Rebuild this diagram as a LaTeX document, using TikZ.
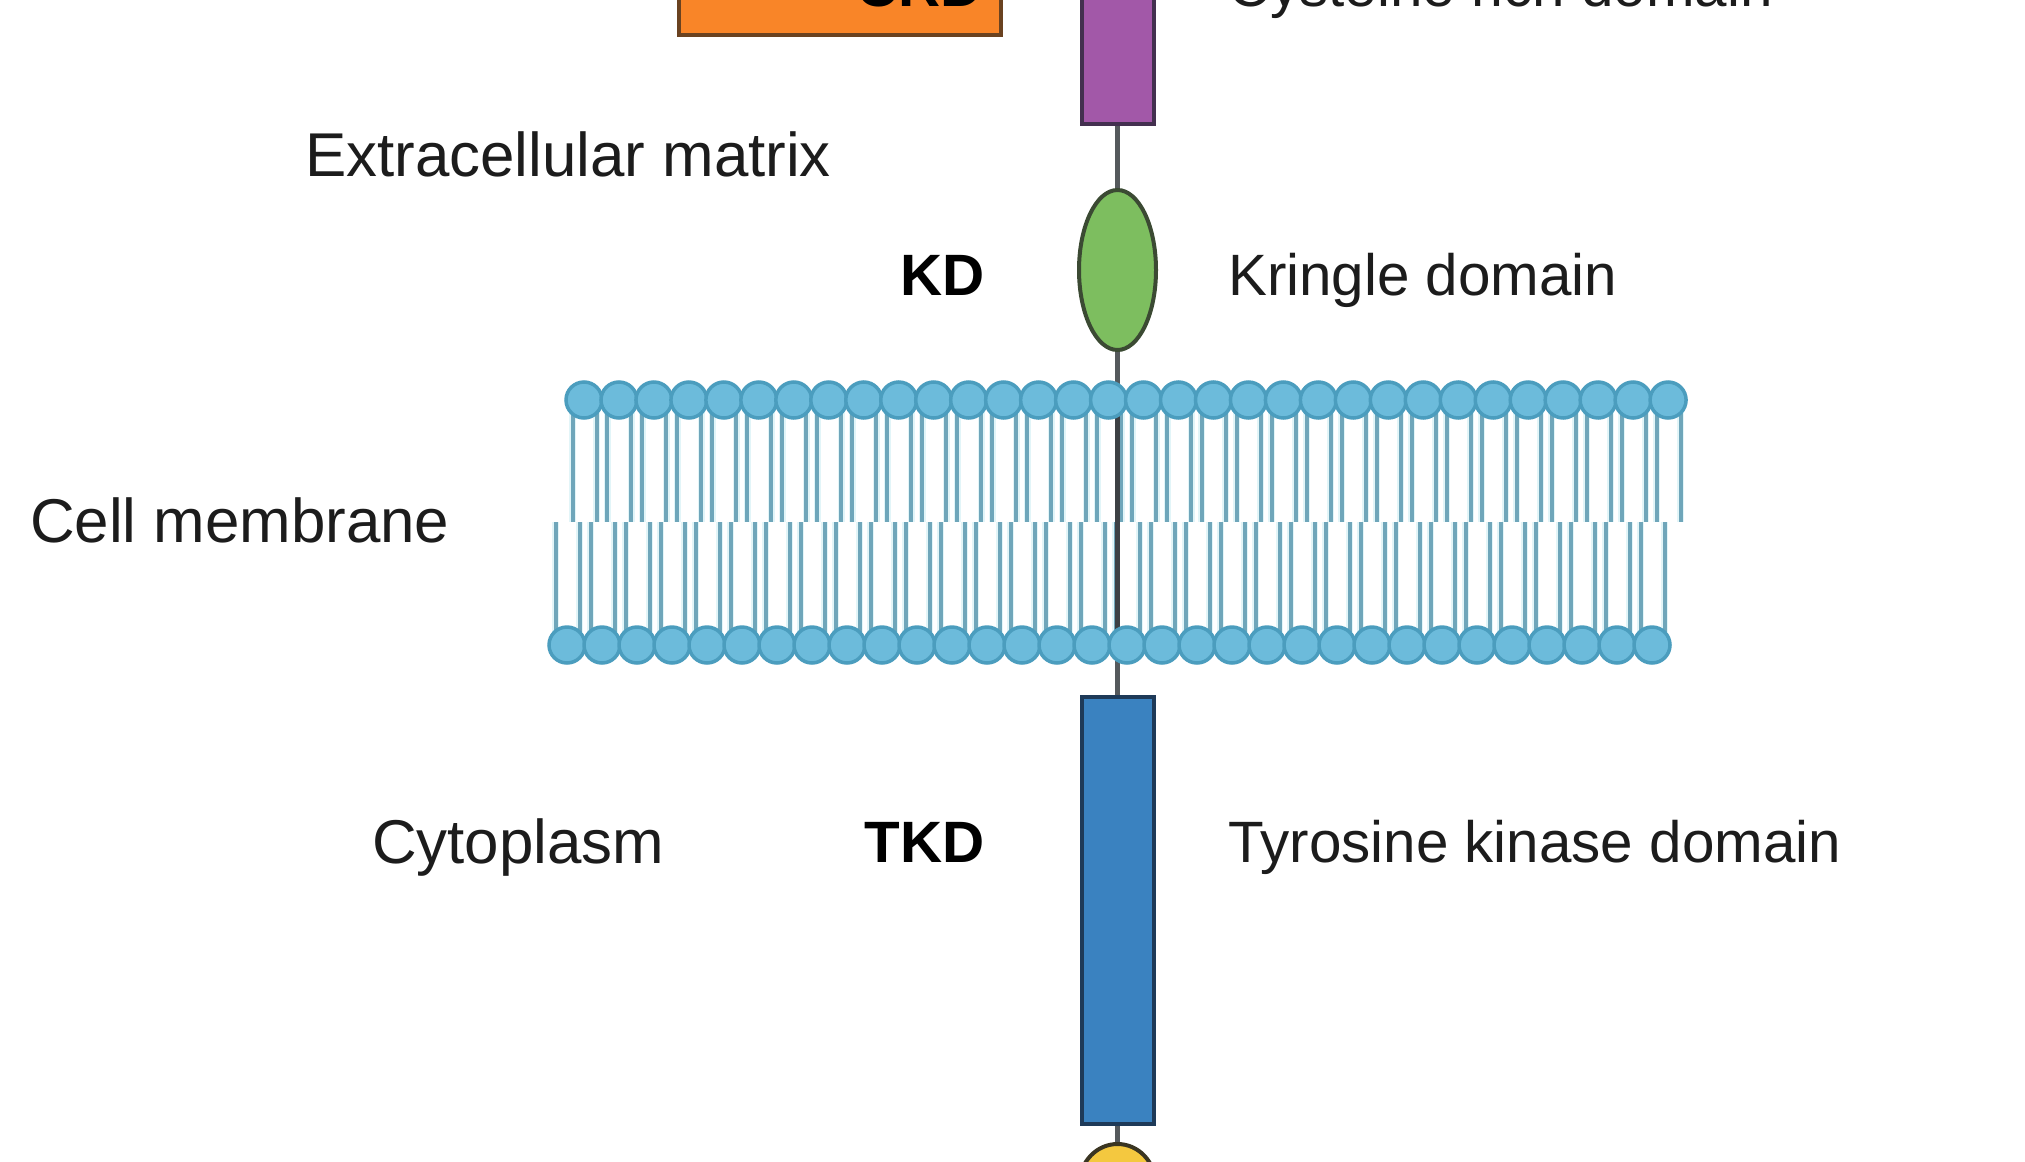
\documentclass[tikz,border=0pt]{standalone}
\usepackage{fontspec}
\setmainfont{Liberation Sans}
\usetikzlibrary{shapes.geometric}
\pgfdeclarelayer{under}
\pgfsetlayers{under,main}
\definecolor{headfill}{HTML}{6CBBDB}
\definecolor{headline}{HTML}{4B9DBE}
\definecolor{tailcore}{HTML}{6FA6BA}
\definecolor{tailglow}{HTML}{E2F5F8}
\definecolor{stemgray}{HTML}{55595C}
\definecolor{stemdark}{HTML}{3C4044}
\definecolor{inktext}{HTML}{1C1C1C}
\definecolor{crdfill}{HTML}{F98528}
\definecolor{crdline}{HTML}{6A4220}
\definecolor{crichfill}{HTML}{A258A8}
\definecolor{crichline}{HTML}{43304F}
\definecolor{kdfill}{HTML}{7DBE5F}
\definecolor{kdline}{HTML}{3B4A33}
\definecolor{tkdfill}{HTML}{3A82C0}
\definecolor{tkdline}{HTML}{1E3A58}
\definecolor{tailfill}{HTML}{F4C83F}
\definecolor{tailline2}{HTML}{3A3522}
\tikzset{
  x=0.05cm,y=-0.05cm,
  px/.style={line width=#1*0.05cm},
  domainbox/.style={rectangle,px=4,inner sep=0pt,minimum width=3.6cm},
  domainoval/.style={ellipse,px=4,inner sep=0pt},
  leftlabel/.style={font=\fontsize{88pt}{88pt}\selectfont,text=inktext,inner sep=0pt,anchor=base west},
  rightlabel/.style={font=\fontsize{83pt}{83pt}\selectfont,text=inktext,inner sep=0pt,anchor=base west},
  abbrev/.style={font=\fontsize{83pt}{83pt}\selectfont\bfseries,text=black,inner sep=0pt,anchor=base east},
  lipidhead/.style={circle,draw=headline,fill=headfill,px=3.5,minimum size=1.8cm,inner sep=0pt},
  tailhalo/.style={tailglow,px=7},
  tailstroke/.style={tailcore,px=4},
  stemline/.style={stemgray,px=5.5}
}
\begin{document}
\begin{tikzpicture}
\useasboundingbox (0,0) rectangle (2025,1161);
\begin{scope}
\clip (0,0) rectangle (2025,1161);

% Receptor domains
\node[domainbox,draw=crdline,fill=crdfill,minimum width=16.1cm,minimum height=4cm] (crdbox) at (840,-5) {};
\node[domainbox,draw=crichline,fill=crichfill,minimum height=8cm] (crichbox) at (1117.5,44) {};
\node[domainoval,draw=kdline,fill=kdfill,minimum width=3.85cm,minimum height=8cm] (kd) at (1117.5,270) {};
\node[domainbox,draw=tkdline,fill=tkdfill,minimum height=21.35cm] (tkdbox) at (1117.5,910.5) {};
\node[domainoval,draw=tailline2,fill=tailfill,minimum width=3.8cm,minimum height=4cm] (cyt) at (1117.5,1184) {};

% Page ground and the stem joining the domains, behind everything else
\begin{pgfonlayer}{under}
  \fill[white] (0,0) rectangle (2025,1161);
  \draw[stemline] (crichbox.south) -- (kd.north);
  \draw[stemline] (kd.south) -- (tkdbox.north);
  \draw[stemline] (tkdbox.south) -- (cyt.north);
\end{pgfonlayer}

% Fatty acid tails of both leaflets
\foreach \i in {0,...,31}{
  \pgfmathsetmacro{\cx}{584+\i*34.97}
  \pgfmathsetmacro{\dx}{567+\i*35}
  \foreach \s in {-11.5,12.5}{
    \draw[tailhalo] (\cx+\s,412) -- (\cx+\s,522);
    \draw[tailhalo] (\dx+\s,522) -- (\dx+\s,632);
  }
}
\foreach \i in {0,...,31}{
  \pgfmathsetmacro{\cx}{584+\i*34.97}
  \pgfmathsetmacro{\dx}{567+\i*35}
  \foreach \s in {-11.5,12.5}{
    \draw[tailstroke] (\cx+\s,412) -- (\cx+\s,522);
    \draw[tailstroke] (\dx+\s,522) -- (\dx+\s,632);
  }
}

% Transmembrane part of the stem, over the tails
\coordinate (memtop) at (1117.5,405);
\coordinate (membot) at (1117.5,640);
\draw[stemdark,px=5.5] (memtop) -- (membot);

% Phospholipid heads
\foreach \i in {0,...,31}{
  \node[lipidhead] (u\i) at (584+\i*34.97,400) {};
  \node[lipidhead] (d\i) at (567+\i*35,645) {};
}

% Labels
\node[abbrev] (crdlabel) at (983,6) {CRD};
\node[rightlabel] (crichlabel) at (1228,6) {Cysteine rich domain};
\node[leftlabel] (ecm) at (305,176) {Extracellular matrix};
\node[abbrev] (kdlabel) at (985,295.5) {KD};
\node[rightlabel] (kringle) at (1228,295.5) {Kringle domain};
\node[leftlabel] (cm) at (30,542) {Cell membrane};
\node[leftlabel] (cp) at (372,863) {Cytoplasm};
\node[abbrev] (tkdlabel) at (985,862.5) {TKD};
\node[rightlabel] (tkdname) at (1228,862.5) {Tyrosine kinase domain};
\end{scope}
\end{tikzpicture}
\end{document}
